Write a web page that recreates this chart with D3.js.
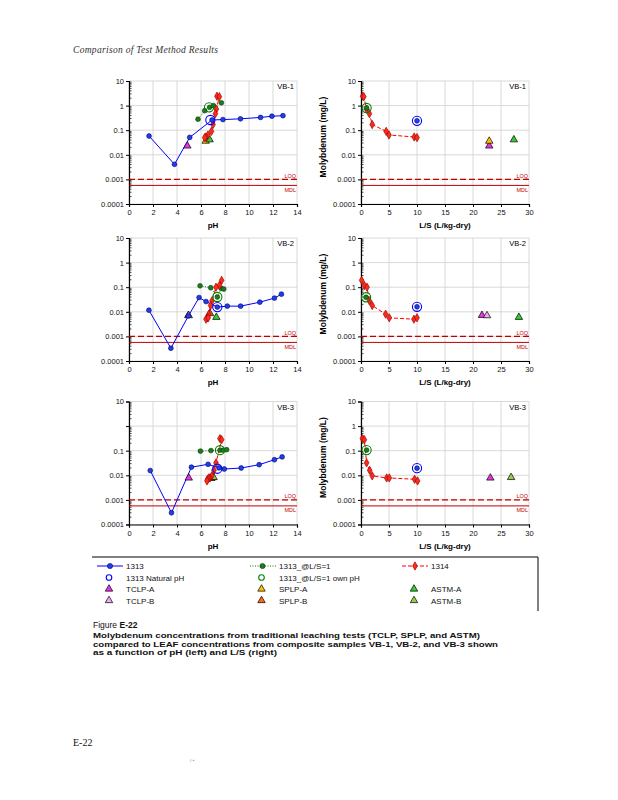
<!DOCTYPE html>
<html>
<head>
<meta charset="utf-8">
<script src="https://cdn.jsdelivr.net/npm/d3@7"></script>
<style>
  body { margin: 0; background: #fff; }
  svg { display: block; font-family: "Liberation Sans", Arial, sans-serif; }
</style>
</head>
<body>
<svg id="chart" width="618" height="800"></svg>
<script>
// ---- data ----
const sampleNames = ["VB-1", "VB-2", "VB-3"];
const yTicks = [10, 1, 0.1, 0.01, 0.001, 0.0001];
const yTickLabels = ["10", "1", "0.1", "0.01", "0.001", "0.0001"];
const phTicks = [0, 2, 4, 6, 8, 10, 12, 14];
const lsTicks = [0, 5, 10, 15, 20, 25, 30];
const loq = 0.001;
const mdl = 0.00057;

// 1313 (pH dependence)
const ph1313 = [
  [1.67, 3.79, 5.06, 6.92, 7.83, 9.29, 10.96, 11.91, 12.83],
  [1.66, 3.49, 4.95, 5.84, 6.42, 7.36, 8.19, 9.3, 10.9, 12.12, 12.7],
  [1.77, 3.54, 5.2, 6.59, 7.5, 7.94, 9.35, 10.85, 12.12, 12.76]
];
const conc1313 = [
  [0.058, 0.0041, 0.051, 0.26, 0.27, 0.29, 0.33, 0.37, 0.39],
  [0.0116, 0.00033, 0.0068, 0.038, 0.026, 0.0155, 0.017, 0.017, 0.0246, 0.036, 0.052],
  [0.0156, 0.0003, 0.0214, 0.028, 0.02, 0.018, 0.0198, 0.027, 0.043, 0.056]
];
// 1313 natural pH
const natPH1313 = [6.78, 7.36, 7.36];
const natConc1313 = [0.26, 0.0155, 0.0185];
const natLS1313 = [10, 10, 10];
const natLSConc1313 = [0.24, 0.016, 0.0195];

// 1313_@L/S=1
const phLS1 = [
  [5.75, 6.31, 6.72, 7.03, 7.7],
  [5.92, 6.81, 7.36, 7.69, 7.9],
  [5.95, 6.83, 7.58, 7.85, 8.14]
];
const concLS1 = [
  [0.28, 0.62, 0.85, 1.0, 1.3],
  [0.114, 0.095, 0.04, 0.089, 0.084],
  [0.096, 0.101, 0.105, 0.105, 0.11]
];
const natPHLS1 = [6.67, 7.36, 7.58];
const natConcLS1 = [0.85, 0.04, 0.105];
const natLSLS1 = [1.0, 0.9, 1.0];
const natLSConcLS1 = [0.8, 0.039, 0.106];

// 1314
const ls1314 = [
  [0.3, 0.5, 1.0, 1.5, 2.0, 4.5, 5.0, 9.5, 10.0],
  [0.12, 0.6, 1.07, 1.5, 2.0, 4.4, 5.05, 9.45, 10.0],
  [0.24, 0.6, 1.0, 1.55, 2.0, 4.58, 5.05, 9.57, 10.1]
];
const ph1314 = [
  [7.33, 7.53, 7.28, 7.2, 7.0, 6.87, 6.58, 6.4, 6.31],
  [7.72, 7.53, 7.25, 6.92, 6.8, 6.65, 6.53, 6.42, 6.6],
  [7.58, 7.72, 7.25, 7.08, 6.9, 6.75, 6.64, 6.55, 6.5]
];
const conc1314 = [
  [2.4, 2.3, 0.72, 0.47, 0.17, 0.09, 0.064, 0.053, 0.05],
  [0.19, 0.118, 0.10, 0.028, 0.018, 0.008, 0.0057, 0.005, 0.0057],
  [0.31, 0.28, 0.032, 0.016, 0.0095, 0.0078, 0.0078, 0.0069, 0.0059]
];

// traditional tests (ls null = not drawn on L/S panel)
const triTest   = ["TCLP-A", "SPLP-A", "ASTM-A", "TCLP-A", "TCLP-B", "SPLP-B", "ASTM-A", "TCLP-A", "SPLP-B", "SPLP-A", "ASTM-B"];
const triSample = [0, 0, 0, 1, 1, 1, 1, 2, 2, 2, 2];
const triPH     = [4.86, 6.39, 6.72, 4.95, 4.97, 6.75, 7.28, 4.98, 6.85, 6.97, 7.05];
const triLS     = [22.9, 22.9, 27.3, 21.6, 22.5, null, 28.2, 23.1, null, null, 26.8];
const triConc   = [0.023, 0.036, 0.041, 0.0072, 0.007, 0.0085, 0.006, 0.0078, 0.0075, 0.0081, 0.0082];

const triColors = {
  "TCLP-A": "#e633e6", "TCLP-B": "#f2a8f2", "SPLP-A": "#ffc000",
  "SPLP-B": "#ff6a10", "ASTM-A": "#33cc33", "ASTM-B": "#9acb4a"
};

const blue = "#0000ff", blueFill = "#1f3fe8";
const green = "#008000", greenFill = "#1d7a1d";
const red = "#ff0000", redFill = "#ff2a1a";
const limitRed = "#c00000";

// ---- layout ----
const svg = d3.select("#chart");
const rowTops = [81, 238, 401.5];
const plotH = 123;
const cols = [
  { x0: 129, x1: 297, domain: [0, 14], ticks: phTicks, label: "pH", kind: "ph" },
  { x0: 361, x1: 529, domain: [0, 30], ticks: lsTicks, label: "L/S (L/kg-dry)", kind: "ls" }
];

const triSym = d3.symbol().type(d3.symbolTriangle).size(24);
const diaSym = d3.symbol().type(d3.symbolDiamond).size(20);

function drawPanel(row, col) {
  const c = cols[col];
  const y0 = rowTops[row], y1 = y0 + plotH;
  const x = d3.scaleLinear().domain(c.domain).range([c.x0, c.x1]);
  const y = d3.scaleLog().domain([0.0001, 10]).range([y1, y0]);
  const g = svg.append("g");

  // grid
  g.selectAll(".vg").data(c.ticks).enter().append("line")
    .attr("x1", d => x(d)).attr("x2", d => x(d))
    .attr("y1", y0).attr("y2", y1)
    .attr("stroke", "#cfcfcf").attr("stroke-width", 0.8);
  g.selectAll(".hg").data(yTicks).enter().append("line")
    .attr("x1", c.x0).attr("x2", c.x1)
    .attr("y1", d => y(d)).attr("y2", d => y(d))
    .attr("stroke", "#cfcfcf").attr("stroke-width", 0.8);

  // minor log ticks on y axis
  const minors = [];
  for (let e = -4; e < 1; e++) for (let k = 2; k < 10; k++) minors.push(k * Math.pow(10, e));
  g.selectAll(".mt").data(minors).enter().append("line")
    .attr("x1", c.x0).attr("x2", c.x0 + 2.5)
    .attr("y1", d => y(d)).attr("y2", d => y(d))
    .attr("stroke", "#000").attr("stroke-width", 0.7);

  // axes
  const yLabels = yTickLabels.slice();
  if (row === 2 && col === 0) yLabels[1] = "";
  const yAxis = d3.axisLeft(y).tickValues(yTicks)
    .tickFormat((d, i) => yLabels[i]).tickSize(3).tickPadding(2);
  const ya = g.append("g").attr("transform", `translate(${c.x0},0)`).call(yAxis);
  const xAxis = d3.axisBottom(x).tickValues(c.ticks).tickSize(3).tickPadding(3);
  const xa = g.append("g").attr("transform", `translate(0,${y1})`).call(xAxis);
  [ya, xa].forEach(a => {
    a.select(".domain").attr("stroke", "#000").attr("stroke-width", 1.2);
    a.selectAll(".tick line").attr("stroke", "#000");
    a.selectAll("text").attr("font-size", 7.5).attr("fill", "#111")
      .attr("font-family", "'Liberation Sans', Arial, sans-serif");
  });

  // axis titles
  g.append("text").attr("x", (c.x0 + c.x1) / 2).attr("y", y1 + 24)
    .attr("text-anchor", "middle").attr("font-size", 8).attr("font-weight", "bold")
    .text(c.label);
  if (col === 1) {
    g.append("text")
      .attr("transform", `translate(${c.x0 - 35},${y0 + 56}) rotate(-90)`)
      .attr("text-anchor", "middle").attr("font-size", 8.5).attr("font-weight", "bold")
      .text("Molybdenum (mg/L)");
  }

  // sample label
  g.append("text").attr("x", c.x1 - 3).attr("y", y0 + 8)
    .attr("text-anchor", "end").attr("font-size", 7.5).text(sampleNames[row]);

  // LOQ / MDL
  g.append("line").attr("x1", c.x0).attr("x2", c.x1)
    .attr("y1", y(loq)).attr("y2", y(loq))
    .attr("stroke", limitRed).attr("stroke-width", 1.1).attr("stroke-dasharray", "6,3");
  g.append("line").attr("x1", c.x0).attr("x2", c.x1)
    .attr("y1", y(mdl)).attr("y2", y(mdl))
    .attr("stroke", limitRed).attr("stroke-width", 1);
  g.append("text").attr("x", c.x1 - 1).attr("y", y(loq) - 1.5)
    .attr("text-anchor", "end").attr("font-size", 5.5).attr("fill", limitRed).text("LOQ");
  g.append("text").attr("x", c.x1 - 1).attr("y", y(mdl) + 6.5)
    .attr("text-anchor", "end").attr("font-size", 5.5).attr("fill", limitRed).text("MDL");

  const line = d3.line().x(d => x(d[0])).y(d => y(d[1]));

  if (c.kind === "ph") {
    const pts1313 = ph1313[row].map((v, i) => [v, conc1313[row][i]]);
    const ptsLS1 = phLS1[row].map((v, i) => [v, concLS1[row][i]]);
    const pts1314 = ph1314[row].map((v, i) => [v, conc1314[row][i]]);

    g.append("path").attr("d", line(ptsLS1)).attr("fill", "none")
      .attr("stroke", green).attr("stroke-width", 1).attr("stroke-dasharray", "1,1.5");
    g.append("path").attr("d", line(pts1314)).attr("fill", "none")
      .attr("stroke", red).attr("stroke-width", 1).attr("stroke-dasharray", "4,2");
    g.append("path").attr("d", line(pts1313)).attr("fill", "none")
      .attr("stroke", blue).attr("stroke-width", 1);

    drawTriangles(g, row, "ph", x, y);

    g.selectAll(".gm").data(ptsLS1).enter().append("circle")
      .attr("cx", d => x(d[0])).attr("cy", d => y(d[1])).attr("r", 2.4)
      .attr("fill", greenFill).attr("stroke", "#0a3d0a").attr("stroke-width", 0.6);
    g.selectAll(".rm").data(pts1314).enter().append("path")
      .attr("d", diaSym).attr("transform", d => `translate(${x(d[0])},${y(d[1])})`)
      .attr("fill", redFill).attr("stroke", "#8a0000").attr("stroke-width", 0.6);
    g.selectAll(".bm").data(pts1313).enter().append("circle")
      .attr("cx", d => x(d[0])).attr("cy", d => y(d[1])).attr("r", 2.4)
      .attr("fill", blueFill).attr("stroke", "#00006a").attr("stroke-width", 0.6);

    ring(g, x(natPH1313[row]), y(natConc1313[row]), blue);
    ring(g, x(natPHLS1[row]), y(natConcLS1[row]), green);
  } else {
    const pts1314 = ls1314[row].map((v, i) => [v, conc1314[row][i]]);
    g.append("path").attr("d", line(pts1314)).attr("fill", "none")
      .attr("stroke", red).attr("stroke-width", 1).attr("stroke-dasharray", "4,2");
    g.selectAll(".rm").data(pts1314).enter().append("path")
      .attr("d", diaSym).attr("transform", d => `translate(${x(d[0])},${y(d[1])})`)
      .attr("fill", redFill).attr("stroke", "#8a0000").attr("stroke-width", 0.6);

    const gx = x(natLSLS1[row]), gy = y(natLSConcLS1[row]);
    g.append("circle").attr("cx", gx).attr("cy", gy).attr("r", 2.4)
      .attr("fill", greenFill).attr("stroke", "#0a3d0a").attr("stroke-width", 0.6);
    ring(g, gx, gy, green);
    const bx = x(natLS1313[row]), by = y(natLSConc1313[row]);
    g.append("circle").attr("cx", bx).attr("cy", by).attr("r", 2.4)
      .attr("fill", blueFill).attr("stroke", "#00006a").attr("stroke-width", 0.6);
    ring(g, bx, by, blue);

    drawTriangles(g, row, "ls", x, y);
  }
}

function ring(g, cx, cy, color) {
  g.append("circle").attr("cx", cx).attr("cy", cy).attr("r", 4.6)
    .attr("fill", "none").attr("stroke", color).attr("stroke-width", 1.1);
}

function drawTriangles(g, row, kind, x, y) {
  triTest.forEach((t, i) => {
    if (triSample[i] !== row) return;
    const xv = kind === "ph" ? triPH[i] : triLS[i];
    if (xv === null) return;
    g.append("path").attr("d", triSym)
      .attr("transform", `translate(${x(xv)},${y(triConc[i])})`)
      .attr("fill", triColors[t]).attr("stroke", "#000").attr("stroke-width", 0.7);
  });
}

for (let r = 0; r < 3; r++) for (let c = 0; c < 2; c++) drawPanel(r, c);

// ---- legend ----
const lg = svg.append("g");
lg.append("path").attr("d", "M92,557 H538 V611")
  .attr("fill", "none").attr("stroke", "#000").attr("stroke-width", 1);
const rowsY = [566, 577.5, 589, 600.5];
const legCols = [{ lx: 97, mx: 110, tx: 126 }, { lx: 250, mx: 262.5, tx: 279 }, { lx: 402, mx: 415, tx: 431 }];
const legText = lg.append("g").attr("font-size", 8).attr("fill", "#111");

function legLine(ci, color, dash, marker, label) {
  const c = legCols[ci], yy = rowsY[0];
  lg.append("line").attr("x1", c.lx).attr("x2", c.lx + 26).attr("y1", yy).attr("y2", yy)
    .attr("stroke", color).attr("stroke-width", 1).attr("stroke-dasharray", dash);
  marker(c.mx, yy);
  legText.append("text").attr("x", c.tx).attr("y", yy + 3).text(label);
}
legLine(0, blue, null, (mx, my) => lg.append("circle").attr("cx", mx).attr("cy", my).attr("r", 2.6)
  .attr("fill", blueFill).attr("stroke", "#00006a").attr("stroke-width", 0.6), "1313");
legLine(1, green, "1,1.5", (mx, my) => lg.append("circle").attr("cx", mx).attr("cy", my).attr("r", 2.6)
  .attr("fill", greenFill).attr("stroke", "#0a3d0a").attr("stroke-width", 0.6), "1313_@L/S=1");
legLine(2, red, "4,2", (mx, my) => lg.append("path").attr("d", diaSym).attr("transform", `translate(${mx},${my})`)
  .attr("fill", redFill).attr("stroke", "#8a0000").attr("stroke-width", 0.6), "1314");

[[0, blue, "1313 Natural pH"], [1, green, "1313_@L/S=1 own pH"]].forEach(([ci, color, label]) => {
  const c = legCols[ci];
  lg.append("circle").attr("cx", c.mx - 1).attr("cy", rowsY[1]).attr("r", 2.8)
    .attr("fill", "none").attr("stroke", color).attr("stroke-width", 1.1);
  legText.append("text").attr("x", c.tx).attr("y", rowsY[1] + 3).text(label);
});

const legTris = [["TCLP-A", 0, 2], ["SPLP-A", 1, 2], ["ASTM-A", 2, 2], ["TCLP-B", 0, 3], ["SPLP-B", 1, 3], ["ASTM-B", 2, 3]];
legTris.forEach(([t, ci, ri]) => {
  const c = legCols[ci];
  lg.append("path").attr("d", triSym).attr("transform", `translate(${c.mx - 1},${rowsY[ri]})`)
    .attr("fill", triColors[t]).attr("stroke", "#000").attr("stroke-width", 0.7);
  legText.append("text").attr("x", c.tx).attr("y", rowsY[ri] + 3).text(t);
});

// ---- header, caption, footer ----
svg.append("text").attr("x", 73).attr("y", 53)
  .attr("font-family", "'Liberation Serif', serif").attr("font-style", "italic")
  .attr("font-size", 9.5).attr("fill", "#333").attr("textLength", 145)
  .text("Comparison of Test Method Results");

const cap = svg.append("g").attr("fill", "#111");
cap.append("text").attr("x", 93).attr("y", 628).attr("font-size", 8.5)
  .text("Figure ").append("tspan").attr("font-weight", "bold").text("E-22");
const capLines = [
  ["Molybdenum concentrations from traditional leaching tests (TCLP, SPLP, and ASTM)", 387],
  ["compared to LEAF concentrations from composite samples VB-1, VB-2, and VB-3 shown", 405],
  ["as a function of pH (left) and L/S (right)", 184]
];
capLines.forEach(([t, w], i) => {
  cap.append("text").attr("x", 93).attr("y", 638 + i * 8.6)
    .attr("font-weight", "bold").attr("textLength", w).attr("lengthAdjust", "spacingAndGlyphs")
    .attr("font-size", 8).text(t);
});

svg.append("text").attr("x", 73).attr("y", 746)
  .attr("font-family", "'Liberation Serif', serif").attr("font-size", 10).attr("fill", "#111")
  .text("E-22");
svg.append("text").attr("x", 190).attr("y", 762)
  .attr("font-size", 5).attr("fill", "#999").text("ı ▪");
</script>
</body>
</html>
